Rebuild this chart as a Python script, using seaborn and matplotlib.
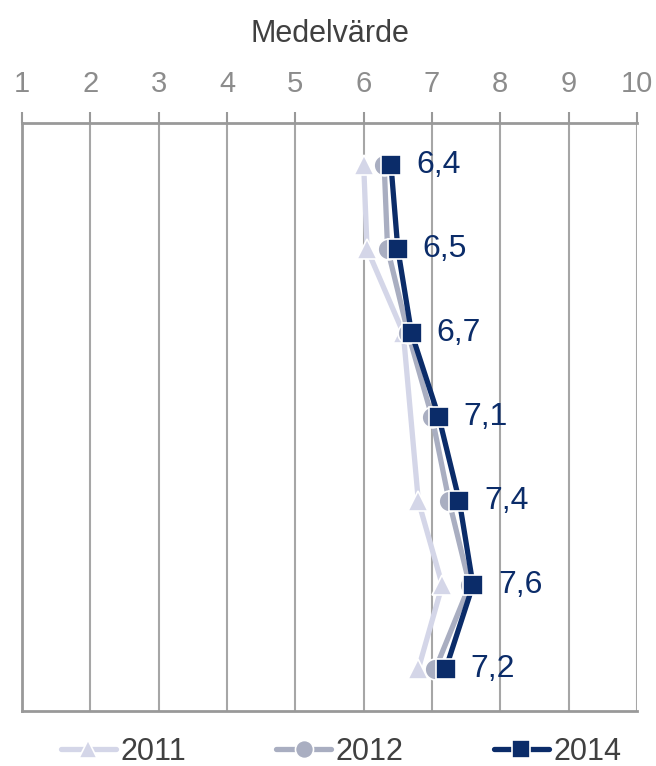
import numpy as np
import pandas as pd
import matplotlib
matplotlib.use("Agg")
import matplotlib.pyplot as plt
import seaborn as sns

# data (one row per category, top to bottom)
rows = [1, 2, 3, 4, 5, 6, 7]
v2011 = [6.0, 6.05, 6.58, None, 6.8, 7.15, 6.8]   # no marker shown on row 4
v2012 = [6.3, 6.35, 6.65, 7.0, 7.25, 7.55, 7.05]
v2014 = [6.4, 6.5, 6.7, 7.1, 7.4, 7.6, 7.2]
labels_2014 = ["6,4", "6,5", "6,7", "7,1", "7,4", "7,6", "7,2"]
years = ["2011", "2012", "2014"]

df = pd.DataFrame({
    "rad": rows * 3,
    "värde": v2011 + v2012 + v2014,
    "år": np.repeat(years, len(rows)),
}).dropna()

sns.set_style("white")
plt.rcParams["font.family"] = ["Liberation Sans", "DejaVu Sans"]

colors = {"2011": "#d4d6e8", "2012": "#a9aec1", "2014": "#0b2c69"}
markers = {"2011": "^", "2012": "o", "2014": "s"}

fig = plt.figure(figsize=(6.56, 7.66), dpi=100)
ax = fig.add_axes([22 / 656, 1 - 711 / 766, 615 / 656, 588 / 766])

sns.lineplot(data=df, x="värde", y="rad", hue="år", style="år",
             palette=colors, markers=markers, dashes=False, sort=False,
             orient="y", linewidth=3.8, markersize=15, markeredgewidth=1.2,
             markeredgecolor="white", ax=ax, legend=True)

for y, x, t in zip(rows, v2014, labels_2014):
    ax.annotate(t, (x, y), xytext=(18, 0), textcoords="offset points",
                va="center", ha="left", fontsize=23, color="#0b2c69")

ax.set_xlim(1, 10)
ax.set_ylim(7.5, 0.5)
ax.set_xticks(range(1, 11))
ax.xaxis.tick_top()
ax.xaxis.set_label_position("top")
ax.set_xlabel("Medelvärde", fontsize=22, color="#404040", labelpad=20)
ax.set_ylabel("")
ax.set_yticks([])
ax.tick_params(axis="x", direction="out", length=8, width=1.5,
               color="#999999", labelsize=21, labelcolor="#8c8c8c", pad=10)
ax.grid(axis="x", color="#a6a6a6", linewidth=1.5)
for s in ["top", "bottom", "left"]:
    ax.spines[s].set_color("#999999")
    ax.spines[s].set_linewidth(2)
ax.spines["right"].set_visible(False)

h, l = ax.get_legend_handles_labels()
for hd in h:
    hd.set_linewidth(3.8)
    hd.set_markersize(13)
ax.legend(h, l, loc="center", bbox_to_anchor=(0.519, -0.07), ncol=3,
          frameon=False, fontsize=22, handlelength=1.8, columnspacing=2.95,
          handletextpad=0.15, labelcolor="#404040")

fig.savefig("out.png", dpi=100)
